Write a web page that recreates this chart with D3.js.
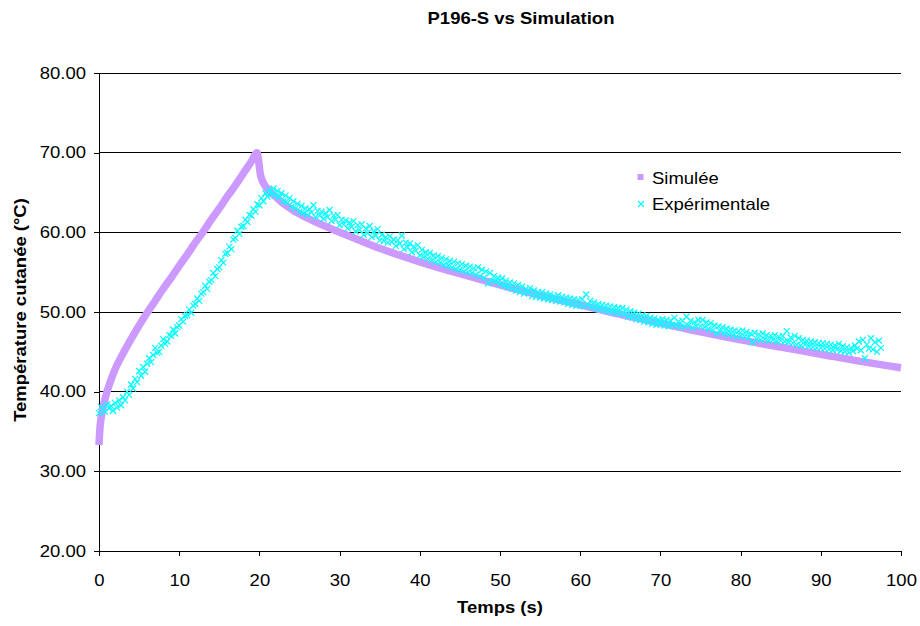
<!DOCTYPE html>
<html><head><meta charset="utf-8">
<script src="https://cdn.jsdelivr.net/npm/d3@7"></script>
<style>
body{margin:0;background:#fff;}
svg text{font-family:"Liberation Sans",Arial,sans-serif;fill:#000;}
</style></head>
<body><svg id="c" width="920" height="626"></svg>
<script>
const title = "P196-S vs Simulation";
const xTitle = "Temps (s)";
const yTitle = "Température cutanée (°C)";
const seriesNames = ["Simulée", "Expérimentale"];
const xTicks = [0,10,20,30,40,50,60,70,80,90,100];
const yTicks = [20,30,40,50,60,70,80];

const simT = [0,0.1,0.25,0.5,0.75,1,1.5,2,3,4,5,6,7,8,9,10,11,12,13,14,15,16,17,18,19,19.7,19.9,20.1,20.4,20.8,21.3,22,23,24,25,27,30,32,35,40,45,50,55,60,65,70,75,80,85,90,95,100];
const simV = [33.3,35.2,36.6,38.0,39.1,40.0,41.5,42.8,44.8,46.6,48.3,49.9,51.4,52.9,54.3,55.8,57.2,58.7,60.1,61.6,63.0,64.5,65.9,67.4,68.9,70.0,69.0,67.4,66.4,65.7,65.1,64.5,63.6,62.9,62.3,61.3,60.0,59.2,58.0,56.3,54.8,53.4,52.1,50.9,49.7,48.6,47.5,46.5,45.6,44.7,43.8,43.0];

// experimental readings every 0.25 s from t = 0 to 97.5 (one row = 5 s)
const expStart = 0, expStep = 0.25;
const expV = [
37.3,38.1,37.8,37.5,38.4,37.9,38.2,37.6,38.6,38.0,38.9,38.3,39.3,38.9,40.0,39.6,40.9,40.4,41.6,41.2,
42.6,42.0,43.1,42.5,43.5,44.2,43.7,44.6,45.5,44.9,45.0,45.8,46.6,46.0,46.3,47.1,47.0,47.8,47.3,48.1,
48.3,49.1,48.8,49.5,49.6,50.3,49.9,50.8,51.0,51.7,51.4,52.3,52.5,53.3,52.9,53.8,54.0,54.9,54.5,55.4,
55.6,56.5,56.2,57.3,57.4,58.2,57.9,59.1,59.3,60.2,59.8,60.7,60.8,61.6,61.3,62.2,62.1,62.9,62.6,63.5,
63.4,64.3,63.9,64.9,64.5,65.3,64.8,65.5,64.6,65.2,64.4,64.9,63.9,64.6,63.7,64.3,63.2,63.9,63.0,63.6,
62.6,63.3,62.4,63.0,62.2,62.9,62.5,63.4,61.9,62.7,62.1,62.6,61.7,62.4,61.9,62.8,61.4,62.1,61.6,62.2,
60.9,61.6,61.0,61.5,60.5,61.2,60.7,61.4,60.1,60.9,60.3,61.0,59.7,60.5,59.9,60.8,59.4,60.1,59.6,60.4,
59.0,59.7,58.9,59.4,58.7,59.5,58.8,59.1,58.3,59.0,58.6,59.6,57.9,58.7,58.1,58.6,57.5,58.2,57.7,58.4,
57.1,57.8,56.9,57.5,56.7,57.4,56.5,57.1,56.3,57.0,56.2,56.8,55.9,56.6,55.8,56.4,55.6,56.3,55.4,56.1,
55.3,56.0,55.1,55.8,55.0,55.7,54.9,55.5,54.7,55.6,54.5,55.3,54.3,55.1,53.6,54.9,53.9,54.5,53.8,54.3,
53.5,54.2,53.3,53.9,53.1,53.7,52.9,53.6,52.7,53.4,52.5,53.2,52.3,52.9,52.4,53.0,52.0,52.7,51.9,52.5,
51.8,52.5,51.7,52.3,51.6,52.2,51.5,52.0,51.4,52.1,51.3,51.9,51.2,51.8,51.0,51.7,50.9,51.6,50.8,51.5,
50.8,51.6,50.7,52.2,50.9,51.4,50.6,51.2,50.4,51.0,50.3,50.9,50.2,50.8,50.1,50.7,50.0,50.6,49.9,50.5,
49.8,50.5,49.7,50.3,49.4,50.1,49.3,49.9,49.1,49.8,49.0,49.6,48.8,49.5,48.7,49.3,48.5,49.2,48.4,49.0,
48.5,49.1,48.3,49.0,48.2,48.9,48.4,49.3,48.3,48.8,48.1,48.9,48.2,49.4,48.3,48.9,48.0,48.7,48.2,49.0,
48.2,49.0,48.1,48.7,47.9,48.6,47.7,48.3,47.3,48.2,47.6,48.1,47.3,47.9,47.2,47.8,47.1,47.7,46.9,47.6,
47.0,47.7,46.9,47.5,46.8,47.3,46.2,47.4,46.6,47.2,46.5,47.3,46.6,47.1,46.4,47.0,46.5,47.1,46.3,46.9,
46.4,47.0,46.3,47.6,46.2,46.8,46.1,47.0,45.9,46.7,45.8,46.5,45.9,46.4,45.7,46.3,45.6,46.2,45.5,46.1,
45.5,46.1,45.4,46.0,45.3,45.9,45.2,45.8,45.3,46.0,45.1,45.7,45.0,45.6,44.9,45.5,45.1,45.8,45.4,46.3,
45.2,46.5,44.2,45.9,45.4,46.7,45.3,46.2,45.0,46.4,45.5
];

const svg = d3.select("#c");
const m = {l:99, r:901, t:73, b:551};
const x = d3.scaleLinear().domain([0,100]).range([m.l, m.r]);
const y = d3.scaleLinear().domain([20,80]).range([m.b, m.t]);
const FS = 16.5, STRETCH = 1.12;
function stretch(sel, k){
  sel.each(function(){
    const n = this.getComputedTextLength();
    d3.select(this).attr("textLength", n*k).attr("lengthAdjust","spacingAndGlyphs");
  });
}

// gridlines
svg.append("g").selectAll("line").data(yTicks.filter(v=>v>20)).join("line")
  .attr("x1", m.l).attr("x2", m.r).attr("y1", d=>y(d)).attr("y2", d=>y(d))
  .attr("stroke", "#000").attr("stroke-width", 1).attr("shape-rendering","crispEdges");

// axes
const yAxis = d3.axisLeft(y).tickValues(yTicks).tickFormat(d3.format(".2f")).tickSizeInner(5).tickSizeOuter(0).tickPadding(8);
const gy = svg.append("g").attr("transform", `translate(${m.l},0)`).call(yAxis);
const xAxis = d3.axisBottom(x).tickValues(xTicks).tickFormat(d3.format("d")).tickSizeInner(5).tickSizeOuter(0).tickPadding(18);
const gx = svg.append("g").attr("transform", `translate(0,${m.b})`).call(xAxis);
[gx, gy].forEach(g=>{
  g.selectAll("path,line").attr("stroke","#000").attr("shape-rendering","crispEdges");
  g.selectAll("text").attr("font-size", FS).attr("fill","#000")
    .attr("font-family","Liberation Sans, Arial, sans-serif").call(stretch, STRETCH);
});

// simulated series
const simData = simT.map((t,i)=>[t, simV[i]]);
svg.append("path").datum(simData)
  .attr("d", d3.line().x(d=>x(d[0])).y(d=>y(d[1])).curve(d3.curveMonotoneX))
  .attr("fill","none").attr("stroke","#CC99FF").attr("stroke-width",7.5)
  .attr("stroke-linejoin","round");

// experimental series (x markers)
const expData = expV.map((v,i)=>[expStart + i*expStep, v]);
const s = 3;
svg.append("g").selectAll("path").data(expData).join("path")
  .attr("d", d=>{const cx=x(d[0]), cy=y(d[1]);
    return `M${cx-s},${cy-s}L${cx+s},${cy+s}M${cx-s},${cy+s}L${cx+s},${cy-s}`;})
  .attr("stroke","#00FFFF").attr("stroke-width",1.2).attr("fill","none");

// titles
svg.append("text").attr("x", 521).attr("y", 24).attr("text-anchor","middle")
  .attr("font-size", FS).attr("font-weight","bold").text(title).call(stretch, STRETCH);
svg.append("text").attr("x", 500).attr("y", 613).attr("text-anchor","middle")
  .attr("font-size", FS).attr("font-weight","bold").text(xTitle).call(stretch, STRETCH);
svg.append("text").attr("transform","translate(26,310) rotate(-90)").attr("text-anchor","middle")
  .attr("font-size", FS).attr("font-weight","bold").text(yTitle).call(stretch, STRETCH);

// legend
const lg = svg.append("g");
lg.append("rect").attr("x", 637.5).attr("y", 174).attr("width", 6).attr("height", 6).attr("fill","#CC99FF");
lg.append("text").attr("x", 652).attr("y", 183.5).attr("font-size", FS).text(seriesNames[0]).call(stretch, STRETCH);
lg.append("path").attr("d", "M638,201L644,207M638,207L644,201").attr("stroke","#00FFFF").attr("stroke-width",1.1);
lg.append("text").attr("x", 652).attr("y", 210).attr("font-size", FS).text(seriesNames[1]).call(stretch, STRETCH);
</script></body></html>
